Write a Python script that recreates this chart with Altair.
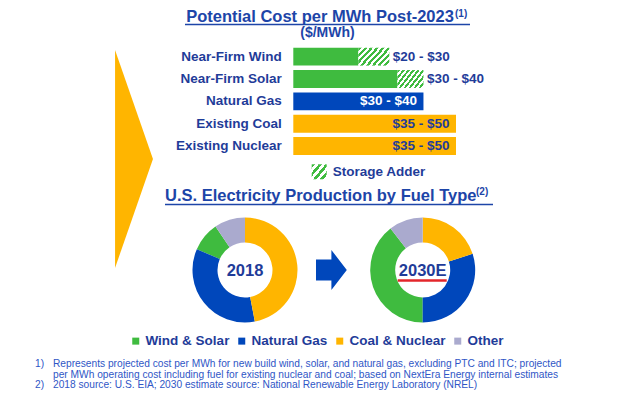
import altair as alt
import pandas as pd

# ---------------- data ----------------
cost_cats = ["Near-Firm Wind", "Near-Firm Solar", "Natural Gas", "Existing Coal", "Existing Nuclear"]
cost_base = [20, 32, 40, 50, 50]            # solid bar end ($/MWh)
storage_end = [29.5, 40, None, None, None]  # end of storage adder ($/MWh)
cost_labels = ["$20 - $30", "$30 - $40", "$30 - $40", "$35 - $50", "$35 - $50"]

fuels = ["Wind & Solar", "Natural Gas", "Coal & Nuclear", "Other"]
share_2018 = [9.0, 34.5, 47.0, 9.5]
share_2030 = [39.5, 30.0, 20.0, 10.5]
pie_order = [3, 2, 1, 4]   # clockwise from 12 o'clock: coal&nuclear, gas, wind&solar, other

title1 = "Potential Cost per MWh Post-2023"
title1_sup = "(1)"
title1_sub = "($/MWh)"
title2 = "U.S. Electricity Production by Fuel Type"
title2_sup = "(2)"
storage_label = "Storage Adder"
pie_labels = ["2018", "2030E"]
foot_nums = ["1)", "", "2)"]
foot_lines = [
    "Represents projected cost per MWh for new build wind, solar, and natural gas, excluding PTC and ITC; projected",
    "per MWh operating cost including fuel for existing nuclear and coal; based on NextEra Energy internal estimates",
    "2018 source: U.S. EIA; 2030 estimate source: National Renewable Energy Laboratory (NREL)",
]

# ---------------- styles ----------------
GREEN = "#3FBB3F"
BLUE = "#0047BB"
YELLOW = "#FFB500"
LAV = "#AAAACE"
DARK = "#1F3C99"
TBLUE = "#1D45A8"
FOOT = "#2F56C6"
RED = "#E3262B"
FONT = "Liberation Sans"

W, H = 624, 384

def one(**kw):
    return pd.DataFrame([kw])

def stripes(n, gx, gy, col):
    stops = []
    for i in range(n):
        a, b, c = i / n, (i + 0.5) / n, (i + 1) / n
        stops += [
            alt.GradientStop(offset=a, color=col),
            alt.GradientStop(offset=b, color=col),
            alt.GradientStop(offset=b, color="white"),
            alt.GradientStop(offset=c, color="white"),
        ]
    return alt.LinearGradient(gradient="linear", stops=stops, x1=0, y1=0, x2=gx, y2=gy)

def text_layer(txt, x, y, size, color=DARK, weight="bold", align="left", baseline="alphabetic"):
    return alt.Chart(one(t=txt)).mark_text(
        font=FONT, fontSize=size, fontWeight=weight, color=color, align=align, baseline=baseline
    ).encode(text="t:N", x=alt.value(x), y=alt.value(y))

def hrule(x1, x2, y, color, width):
    return alt.Chart(one(k=1)).mark_rule(color=color, strokeWidth=width).encode(
        x=alt.value(x1), x2=alt.value(x2), y=alt.value(y)
    )

layers = []

# chevron on the left
layers.append(
    alt.Chart(one(k=1)).mark_point(
        shape="M-0.174,-1 L0.174,0 L-0.174,1 Z", filled=True, size=47524,
        color=YELLOW, opacity=1, strokeWidth=0
    ).encode(x=alt.value(126), y=alt.value(151))
)

# title 1
layers.append(text_layer(title1, 312, 14, 16.5, TBLUE, align="center"))
layers.append(text_layer(title1_sup, 447, 9, 10, TBLUE))
layers.append(hrule(177, 462, 16.5, TBLUE, 1.5))
layers.append(text_layer(title1_sub, 319.5, 28.5, 14, TBLUE, align="center"))

# ---------------- cost bars ----------------
cost_df = pd.DataFrame({"cat": cost_cats, "base": cost_base, "send": storage_end, "lab": cost_labels})
xs = alt.Scale(domain=[0, 50], range=[285.3, 448], nice=False, zero=True)
ys = alt.Scale(domain=cost_cats, range=[37.5, 149.2], paddingInner=0.2, paddingOuter=0.1)
X = lambda f: alt.X(f, scale=xs, axis=None)
Y = alt.Y("cat:N", scale=ys, axis=None, sort=cost_cats)

layers.append(
    alt.Chart(cost_df).mark_bar(cornerRadius=0).encode(
        x=X("base:Q"), y=Y,
        fill=alt.Fill("cat:N", scale=alt.Scale(domain=cost_cats, range=[GREEN, GREEN, BLUE, YELLOW, YELLOW]), legend=None),
    )
)
hatch_df = cost_df.dropna(subset=["send"])
layers.append(
    alt.Chart(hatch_df).mark_bar(color=stripes(8, 1.194, 0.633, GREEN)).encode(
        x=X("base:Q"), x2="send:Q", y=Y
    )
)
# category labels
layers.append(
    alt.Chart(cost_df).mark_text(font=FONT, fontSize=13.5, fontWeight="bold", color=DARK,
                                 align="right", baseline="middle").encode(
        text="cat:N", y=Y, x=alt.value(273.7)
    )
)
# outside value labels (rows with storage adder)
layers.append(
    alt.Chart(hatch_df).mark_text(font=FONT, fontSize=13.5, fontWeight="bold", color=DARK,
                                  align="left", baseline="middle", dx=3.5).encode(
        text="lab:N", y=Y, x=X("send:Q")
    )
)
inside = cost_df[cost_df["send"].isna()]
layers.append(
    alt.Chart(inside).transform_filter(alt.datum.cat == "Natural Gas").mark_text(
        font=FONT, fontSize=13.5, fontWeight="bold", color="white",
        align="right", baseline="middle", dx=-6.5).encode(text="lab:N", y=Y, x=X("base:Q"))
)
layers.append(
    alt.Chart(inside).transform_filter(alt.datum.cat != "Natural Gas").mark_text(
        font=FONT, fontSize=13.5, fontWeight="bold", color=DARK,
        align="right", baseline="middle", dx=-6.5).encode(text="lab:N", y=Y, x=X("base:Q"))
)

# storage adder key
layers.append(
    alt.Chart(one(k=1)).mark_rect(color=stripes(4, 1.079, 0.906, GREEN)).encode(
        x=alt.value(303.7), x2=alt.value(318.7), y=alt.value(156.3), y2=alt.value(171.3)
    )
)
layers.append(text_layer(storage_label, 324.7, 164, 13.5, DARK, baseline="middle"))

# title 2
layers.append(text_layer(title2, 157, 193, 16.5, TBLUE))
layers.append(text_layer(title2_sup, 468, 187, 10, TBLUE))
layers.append(hrule(157, 485, 196.5, TBLUE, 1.5))

# ---------------- donuts ----------------
cscale = alt.Scale(domain=fuels, range=[GREEN, BLUE, YELLOW, LAV])
legend = alt.Legend(
    orient="none", legendX=121, legendY=326, direction="horizontal", title=None,
    symbolType="square", symbolSize=49, symbolStrokeWidth=0, symbolOpacity=1,
    labelFont=FONT, labelFontSize=13.5, labelFontWeight="bold", labelColor=DARK,
    columnPadding=5, labelOffset=3, padding=0,
)
for shares, cx, lab in [(share_2018, 237, pie_labels[0]), (share_2030, 414.7, pie_labels[1])]:
    df = pd.DataFrame({"fuel": fuels, "v": shares, "o": pie_order})
    layers.append(
        alt.Chart(df).mark_arc(outerRadius=52.5, innerRadius=27.5, stroke=None).encode(
            theta=alt.Theta("v:Q", stack=True),
            color=alt.Color("fuel:N", scale=cscale, legend=legend),
            order=alt.Order("o:Q"),
            x=alt.value(cx), y=alt.value(262),
        )
    )
    layers.append(text_layer(lab, cx, 268, 16.5, DARK, align="center"))

layers.append(hrule(389.7, 438.7, 272.5, RED, 2.5))

# blue arrow
layers.append(
    alt.Chart(one(k=1)).mark_point(
        shape="M-0.77,-0.52 L0,-0.52 L0,-1 L0.77,0 L0,1 L0,0.52 L-0.77,0.52 Z",
        filled=True, size=1600, color=BLUE, opacity=1, strokeWidth=0
    ).encode(x=alt.value(323.4), y=alt.value(262))
)

# footnotes
for i, (num, line) in enumerate(zip(foot_nums, foot_lines)):
    yb = 359 + i * 10.6
    if num:
        layers.append(text_layer(num, 27, yb, 10.2, FOOT, weight="normal"))
    layers.append(text_layer(line, 45, yb, 10.2, FOOT, weight="normal"))

chart = alt.layer(*layers).properties(
    width=W, height=H, autosize=alt.AutoSizeParams(type="none"), padding=0,
    background="white",
).configure_view(stroke=None)

chart.save("out.html", embed_options={"renderer": "svg", "actions": False})
